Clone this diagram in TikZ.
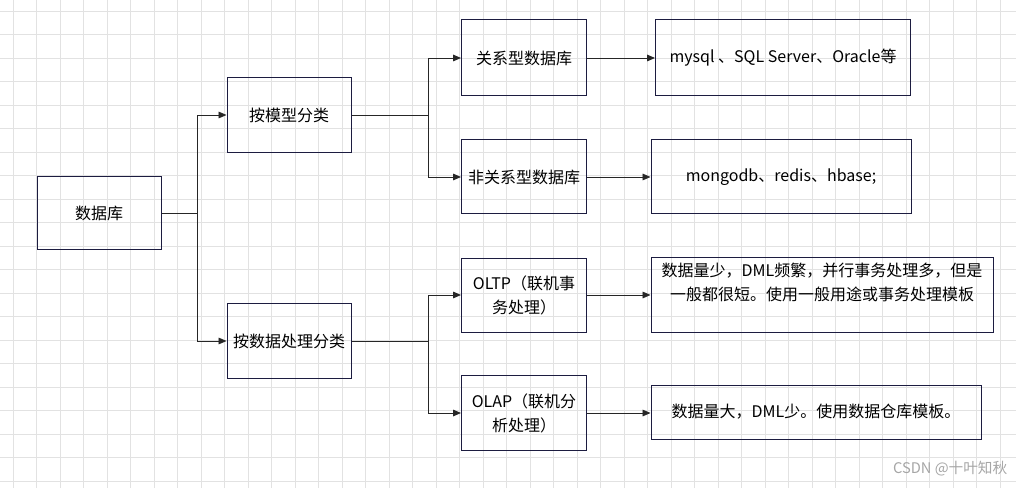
\documentclass[tikz,border=0pt]{standalone}
\usepackage{fontspec}
\setmainfont{Noto Sans CJK SC}
\usetikzlibrary{arrows.meta}
\definecolor{boxline}{HTML}{1C1C40}
\definecolor{gridline}{HTML}{E2E2E2}
\tikzset{
  box/.style={draw=boxline, line width=0.75pt, align=center, inner sep=2pt, font=\fontsize{12}{18}\selectfont},
  link/.style={-{Triangle[length=6pt,width=5pt]}, line width=0.7pt, black!85}
}
\begin{document}
\begin{tikzpicture}[x=0.75pt,y=-0.75pt]
\fill[white] (0,0) rectangle (1016,488);
\useasboundingbox (0,0) rectangle (1016,488);
% background grid
\foreach \i in {0,...,43}
    \draw[gridline, line width=0.5pt] (13+23.5*\i,0) -- (13+23.5*\i,488);
\foreach \j in {0,...,20}
    \draw[gridline, line width=0.5pt] (0,11+23.5*\j) -- (1016,11+23.5*\j);

% nodes
\node[box, minimum width=124*0.75pt, minimum height=72*0.75pt] (db) at (99,213) {数据库};
\node[box, minimum width=124*0.75pt, minimum height=75*0.75pt] (model) at (289,115) {按模型分类};
\node[box, minimum width=124*0.75pt, minimum height=75*0.75pt] (proc) at (289,341) {按数据处理分类};
\node[box, minimum width=125*0.75pt, minimum height=76*0.75pt] (rel) at (524,58) {关系型数据库};
\node[box, minimum width=125*0.75pt, minimum height=74*0.75pt] (nrel) at (524,177) {非关系型数据库};
\node[box, minimum width=125*0.75pt, minimum height=74*0.75pt] (oltp) at (524,295) {OLTP（联机事\\务处理）};
\node[box, minimum width=125*0.75pt, minimum height=75*0.75pt] (olap) at (524,413) {OLAP（联机分\\析处理）};
\node[box, minimum width=255*0.75pt, minimum height=76*0.75pt] (mysql) at (783,58) {mysql 、SQL Server、Oracle等};
\node[box, minimum width=260*0.75pt, minimum height=74*0.75pt] (mongo) at (781,177) {mongodb、redis、hbase;};
\node[box, minimum width=342*0.75pt, minimum height=75*0.75pt, text depth=20pt] (tp) at (822,295) {数据量少，DML频繁，并行事务处理多，但是\\一般都很短。使用一般用途或事务处理模板};
\node[box, minimum width=330*0.75pt, minimum height=54*0.75pt] (ap) at (816,412) {数据量大，DML少。使用数据仓库模板。};
\node[gray!70, font=\fontsize{11}{13}\selectfont, anchor=east] (mark) at (1012,469) {CSDN @十叶知秋};

% connectors
\draw[link] (db.east) -- ++(36,0) |- (model.west);
\draw[link] (db.east) -- ++(36,0) |- (proc.west);
\draw[link] (model.east) -- ++(77,0) |- (rel.west);
\draw[link] (model.east) -- ++(77,0) |- (nrel.west);
\draw[link] (proc.east) -- ++(77,0) |- (oltp.west);
\draw[link] (proc.east) -- ++(77,0) |- (olap.west);
\draw[link] (rel) -- (mysql);
\draw[link] (nrel) -- (mongo);
\draw[link] (oltp) -- (tp.west |- oltp);
\draw[link] (olap) -- (ap.west |- olap);
\end{tikzpicture}
\end{document}
